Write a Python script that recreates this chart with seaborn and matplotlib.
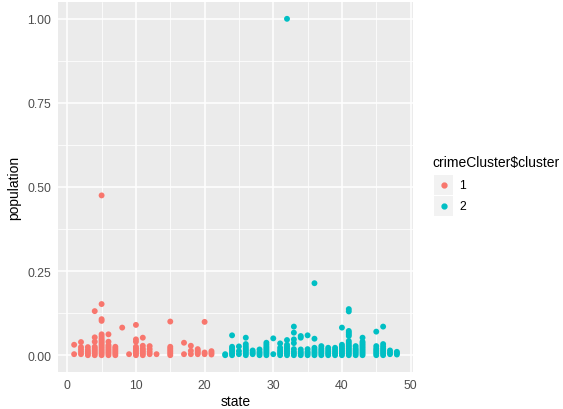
"""
Scatter de población normalizada por estado, coloreado por cluster
"""

import matplotlib.pyplot as plt
import matplotlib.lines as mlines
import matplotlib.patches as mpatches
import seaborn as sns
import numpy as np
import pandas as pd

# Datos: estado -> valores de población
c1_states = [1, 2, 3, 4, 5, 6, 7, 8, 9, 10, 11, 12, 13, 15, 17, 18, 19, 20, 21]
c1_pops = [
    [0.003, 0.031],
    [0.003, 0.010, 0.017, 0.024, 0.039],
    [0.0, 0.005, 0.010, 0.016, 0.024],
    [0.0, 0.005, 0.010, 0.015, 0.020, 0.025, 0.040, 0.053, 0.131],
    [0.0, 0.005, 0.010, 0.015, 0.020, 0.025, 0.030, 0.035, 0.040, 0.045,
     0.050, 0.056, 0.062, 0.102, 0.107, 0.152, 0.475],
    [0.0, 0.005, 0.010, 0.015, 0.020, 0.025, 0.030, 0.040, 0.062],
    [0.0, 0.005, 0.010, 0.015, 0.020, 0.025],
    [0.082],
    [0.003],
    [0.0, 0.005, 0.010, 0.015, 0.020, 0.025, 0.040, 0.047, 0.090],
    [0.0, 0.005, 0.010, 0.015, 0.020, 0.028, 0.052],
    [0.003, 0.010, 0.018, 0.027],
    [0.003],
    [0.0, 0.005, 0.010, 0.015, 0.020, 0.025, 0.100],
    [0.003, 0.037],
    [0.003, 0.013, 0.028],
    [0.003, 0.008, 0.013, 0.018],
    [0.003, 0.008, 0.099],
    [0.002, 0.007, 0.012],
]

c2_states = [23, 24, 25, 26, 27, 28, 29, 30, 31, 32, 33, 34, 35, 36, 37, 38,
             39, 40, 41, 42, 43, 45, 46, 47, 48]
c2_pops = [
    [0.0, 0.003],
    [0.0, 0.005, 0.010, 0.015, 0.020, 0.025, 0.059],
    [0.003, 0.012, 0.026],
    [0.0, 0.005, 0.010, 0.015, 0.020, 0.026, 0.033, 0.052],
    [0.003, 0.008, 0.014],
    [0.0, 0.005, 0.010, 0.017],
    [0.0, 0.005, 0.010, 0.015, 0.020, 0.025, 0.031, 0.037],
    [0.003, 0.050],
    [0.0, 0.005, 0.010, 0.015, 0.022, 0.035],
    [0.0, 0.005, 0.010, 0.015, 0.020, 0.025, 0.031, 0.045, 1.0],
    [0.0, 0.005, 0.010, 0.018, 0.036, 0.047, 0.067, 0.085],
    [0.0, 0.005, 0.010, 0.017, 0.052, 0.057],
    [0.0, 0.005, 0.010, 0.018, 0.059],
    [0.0, 0.005, 0.010, 0.016, 0.022, 0.049, 0.214],
    [0.0, 0.005, 0.010, 0.015, 0.020, 0.027],
    [0.0, 0.005, 0.010, 0.016, 0.022],
    [0.0, 0.005, 0.010, 0.016, 0.022],
    [0.0, 0.005, 0.010, 0.015, 0.020, 0.025, 0.031, 0.082],
    [0.0, 0.005, 0.010, 0.015, 0.020, 0.025, 0.030, 0.036, 0.042, 0.057,
     0.062, 0.067, 0.072, 0.130, 0.137],
    [0.0, 0.005, 0.010, 0.015, 0.020, 0.027],
    [0.0, 0.005, 0.010, 0.015, 0.020, 0.025, 0.030, 0.035, 0.040, 0.052],
    [0.0, 0.005, 0.010, 0.015, 0.020, 0.027, 0.070],
    [0.0, 0.005, 0.010, 0.015, 0.020, 0.026, 0.033, 0.085],
    [0.003, 0.008, 0.014],
    [0.002, 0.006, 0.010],
]

cluster_labels = ['1', '2']
cluster_colors = ['#F8766D', '#00BFC4']


def build_frame():
    rows = []
    for lab, states, pops in [('1', c1_states, c1_pops), ('2', c2_states, c2_pops)]:
        for s, vals in zip(states, pops):
            for v in vals:
                rows.append({'state': s, 'population': v, 'cluster': lab})
    return pd.DataFrame(rows)


df = build_frame()

sns.set_style('darkgrid', {'axes.facecolor': '#EBEBEB', 'grid.color': 'white'})
plt.rcParams['font.family'] = ['Liberation Sans', 'DejaVu Sans']

fig = plt.figure(figsize=(5.63, 4.10), dpi=100)
ax = fig.add_axes([58 / 563, 1 - 373 / 410, 355 / 563, 370 / 410])

sns.scatterplot(data=df, x='state', y='population', hue='cluster',
                hue_order=cluster_labels, palette=cluster_colors,
                s=18, linewidth=0, edgecolor='none', legend=False, ax=ax)

ax.set_xlim(-1.35, 50.35)
ax.set_ylim(-0.05, 1.05)
ax.set_xticks([0, 10, 20, 30, 40, 50])
ax.set_yticks([0.0, 0.25, 0.5, 0.75, 1.0])
ax.set_yticklabels(['0.00', '0.25', '0.50', '0.75', '1.00'])
ax.set_xticks([5, 15, 25, 35, 45], minor=True)
ax.set_yticks([0.125, 0.375, 0.625, 0.875], minor=True)
ax.grid(which='major', color='white', linewidth=1.1)
ax.grid(which='minor', color='white', linewidth=0.55)
ax.set_axisbelow(True)
for sp in ax.spines.values():
    sp.set_visible(False)
ax.tick_params(which='major', length=3, width=0.8, color='#333333',
               labelcolor='#4D4D4D', labelsize=8.8, pad=2, direction='out')
ax.tick_params(which='minor', length=0)
ax.set_xlabel('state', fontsize=10, color='black', labelpad=2)
ax.set_ylabel('population', fontsize=10, color='black', labelpad=4)

# Leyenda
W, H = 563, 410
fig.text(432 / W, 1 - 163 / H, r'crimeCluster\$cluster', fontsize=10,
         va='center', ha='left', color='black')
for i, (lab, col) in enumerate(zip(cluster_labels, cluster_colors)):
    top = 176 + i * 21
    fig.patches.append(mpatches.Rectangle((434 / W, 1 - (top + 20) / H), 19 / W, 20 / H,
                                          transform=fig.transFigure, facecolor='#F2F2F2',
                                          edgecolor='none'))
    fig.add_artist(mlines.Line2D([444 / W], [1 - (top + 10) / H], marker='o',
                                 markersize=3.5, color=col, linestyle='none',
                                 transform=fig.transFigure))
    fig.text(459 / W, 1 - (top + 10) / H, lab, fontsize=8.8, va='center',
             ha='left', color='black')

fig.savefig('out.png', dpi=100)
